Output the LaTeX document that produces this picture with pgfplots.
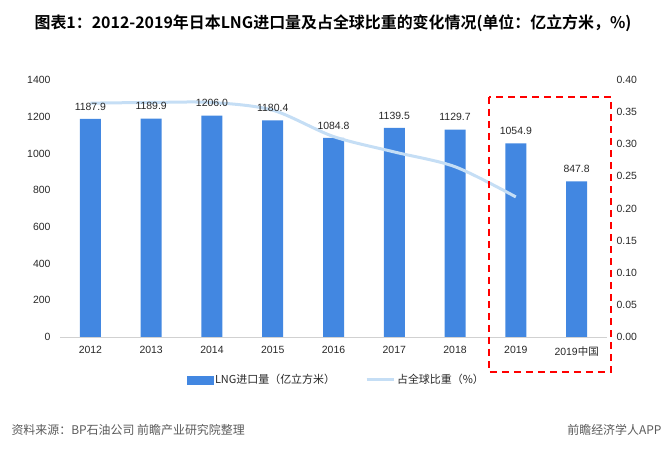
\documentclass[border=0pt]{standalone}
\usepackage{pgfplots}
\pgfplotsset{compat=1.18}
\usepackage{fontspec}
\setmainfont{Liberation Sans}
\newfontfamily\cjk{Noto Sans CJK SC}
\newfontfamily\cjkb{Noto Sans CJK SC Bold}
\definecolor{barblue}{RGB}{66,135,225}
\definecolor{lineblue}{RGB}{197,222,245}
\definecolor{txt}{RGB}{40,40,40}
\definecolor{foot}{RGB}{90,90,90}
\pgfplotsset{
  base/.style={
    at={(60bp,113bp)}, anchor=south west,
    scale only axis, width=547bp, height=257bp,
    xmin=-0.5, xmax=8.5,
    major tick length=0pt,
  },
}
\begin{document}
\begin{tikzpicture}[x=1bp,y=1bp]
\path[use as bounding box] (0,0) rectangle (665,450);
\node[font=\cjkb\fontsize{16}{18}\selectfont, text=black] at (333,427) {图表1：2012-2019年日本LNG进口量及占全球比重的变化情况(单位：亿立方米，\%)};
% bars
\begin{axis}[base,
  ymin=0, ymax=1400,
  xtick={0,1,2,3,4,5,6,7,8},
  xticklabels={2012,2013,2014,2015,2016,2017,2018,2019,{2019\cjk 中国}},
  ytick={0,200,...,1400},
  axis y line*=left, axis x line*=bottom,
  x axis line style={draw=black!18, line width=0.8bp},
  y axis line style={draw=none},
  tick label style={font=\fontsize{10.5}{12}\selectfont, text=txt},
  /pgf/number format/.cd, 1000 sep={}, assume math mode=true, /pgfplots/.cd,
  yticklabel style={xshift=-6bp},
  xticklabel style={yshift=-6bp},
  ybar, bar width=21bp,
]
\addplot[fill=barblue, draw=none] coordinates {(0,1187.9) (1,1189.9) (2,1206.0) (3,1180.4) (4,1084.8) (5,1139.5) (6,1129.7) (7,1054.9) (8,847.8)};
\end{axis}
% line
\begin{axis}[base,
  ymin=0, ymax=0.4,
  hide x axis, axis y line*=right,
  y axis line style={draw=none},
  ytick={0,0.05,...,0.41},
  yticklabel style={font=\fontsize{10.5}{12}\selectfont, text=txt, xshift=6bp,
    /pgf/number format/.cd, fixed, fixed zerofill, precision=2, assume math mode=true},
  clip=false,
  legend columns=2,
  legend style={draw=none, at={(0.505,-0.167)}, anchor=center, font=\cjk\fontsize{11}{13}\selectfont, text=txt,
    /tikz/every even column/.append style={column sep=28bp}},
]
\addlegendimage{legend image code/.code={\fill[barblue] (0bp,-4bp) rectangle (26bp,4bp);}}
\addlegendentry{LNG进口量（亿立方米）}
\addplot[lineblue, line width=3bp, smooth, mark=none,
  legend image code/.code={\draw[lineblue, line width=3bp] (0bp,0bp) -- (27bp,0bp);}]
  coordinates {(0,0.364) (1,0.365) (2,0.365) (3,0.353) (4,0.312) (5,0.288) (6,0.265) (7,0.218)};
\addlegendentry{占全球比重（\%）}
\draw[red, line width=1.6bp, dash pattern=on 7bp off 5bp] (rel axis cs:0.784,0.934) rectangle (rel axis cs:1.007,-0.136);
\end{axis}
% labels on top
\begin{axis}[base,
  ymin=0, ymax=1400, hide axis,
  ybar, bar width=21bp,
  nodes near coords={\pgfmathprintnumber[fixed,fixed zerofill,precision=1,1000 sep={},assume math mode=true]{\pgfplotspointmeta}},
  every node near coord/.append style={font=\fontsize{10.5}{12}\selectfont, text=txt, yshift=5bp},
]
\addplot[fill=none, draw=none] coordinates {(0,1187.9) (1,1189.9) (2,1206.0) (3,1180.4) (4,1084.8) (5,1139.5) (6,1129.7) (7,1054.9) (8,847.8)};
\end{axis}
\node[anchor=west, font=\cjk\fontsize{12}{14}\selectfont, text=foot] at (8,20) {资料来源：BP石油公司 前瞻产业研究院整理};
\node[anchor=east, font=\cjk\fontsize{12}{14}\selectfont, text=foot] at (665,20) {前瞻经济学人APP};
\end{tikzpicture}
\end{document}
